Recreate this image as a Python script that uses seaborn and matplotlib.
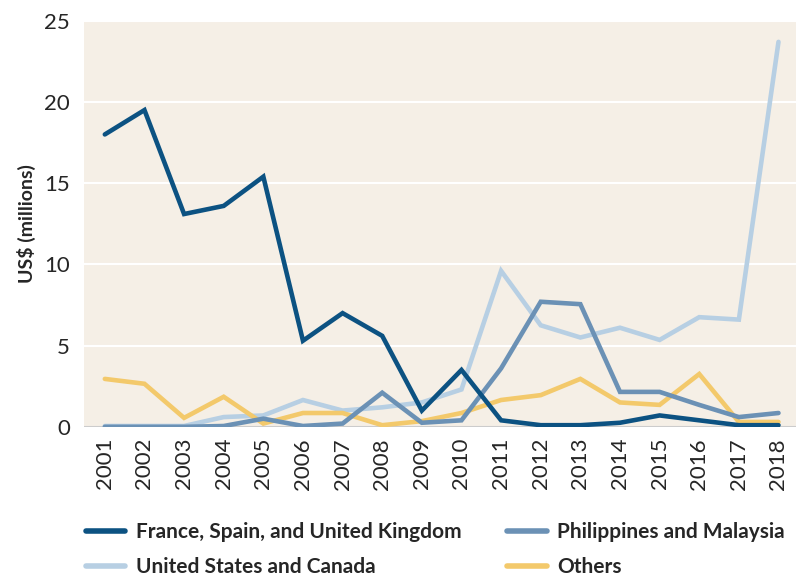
import pandas as pd
import matplotlib.pyplot as plt
import seaborn as sns

years = list(range(2001, 2019))

france_spain_uk = [18.0, 19.5, 13.1, 13.6, 15.4, 5.3, 7.0, 5.6, 1.0, 3.5,
                   0.4, 0.1, 0.1, 0.25, 0.7, 0.4, 0.1, 0.1]
philippines_malaysia = [0.0, 0.0, 0.0, 0.05, 0.5, 0.05, 0.2, 2.1, 0.25, 0.4,
                        3.6, 7.7, 7.55, 2.15, 2.15, 1.35, 0.6, 0.85]
us_canada = [0.05, 0.05, 0.05, 0.6, 0.7, 1.65, 1.0, 1.2, 1.5, 2.3,
             9.6, 6.25, 5.5, 6.1, 5.35, 6.75, 6.6, 23.7]
others = [2.95, 2.65, 0.55, 1.85, 0.2, 0.85, 0.85, 0.1, 0.35, 0.85,
          1.65, 1.95, 2.95, 1.5, 1.35, 3.25, 0.3, 0.3]

series_names = ["France, Spain, and United Kingdom", "Philippines and Malaysia",
                "United States and Canada", "Others"]
colors = ["#0c5282", "#6b91b5", "#b7cfe3", "#f3c96b"]

df = pd.DataFrame({
    "year": years * 4,
    "value": france_spain_uk + philippines_malaysia + us_canada + others,
    "series": sum([[n] * len(years) for n in series_names], []),
})

sns.set_style("white")
plt.rcParams['font.family'] = ['Lato', 'DejaVu Sans']

fig = plt.figure(figsize=(8.06, 5.76), dpi=100)
ax = fig.add_axes([0.104, 0.259, 0.884, 0.705])
ax.set_facecolor("#f5efe6")

# draw order: light blue first so dark lines sit on top like the original
order = ["United States and Canada", "Others", "Philippines and Malaysia",
         "France, Spain, and United Kingdom"]
pal = dict(zip(series_names, colors))
for name in order:
    sub = df[df["series"] == name]
    sns.lineplot(data=sub, x="year", y="value", color=pal[name], linewidth=3.3,
                 ax=ax, legend=False, solid_capstyle="round", solid_joinstyle="miter")

ax.set_xlim(2000.47, 2018.45)
ax.set_ylim(0, 25)
ax.set_yticks([0, 5, 10, 15, 20, 25])
ax.set_xticks(years)
ax.set_xticklabels([str(y) for y in years], rotation=90, fontsize=16)
ax.tick_params(axis="y", labelsize=16, length=0, pad=10)
ax.tick_params(axis="x", length=0, pad=8)
ax.yaxis.grid(True, color="white", linewidth=1.5)
ax.set_axisbelow(True)
for s in ax.spines.values():
    s.set_visible(False)
ax.axhline(0, color="#cccccc", linewidth=1.5, zorder=1)
ax.set_xlabel("")
ax.set_ylabel("US$ (millions)", fontsize=14, fontweight="bold", labelpad=6)

handles = [plt.Line2D([], [], color=pal[n], linewidth=4, solid_capstyle="round")
           for n in series_names]
leg_order = [0, 2, 1, 3]
fig.legend([handles[i] for i in leg_order], [series_names[i] for i in leg_order],
           loc="lower left", bbox_to_anchor=(0.083, -0.034), ncol=2, frameon=False,
           prop={"weight": "bold", "size": 15}, handlelength=1.9, handletextpad=0.5,
           columnspacing=2.2, labelspacing=0.7)

fig.savefig("out.png", dpi=100, facecolor="white")
